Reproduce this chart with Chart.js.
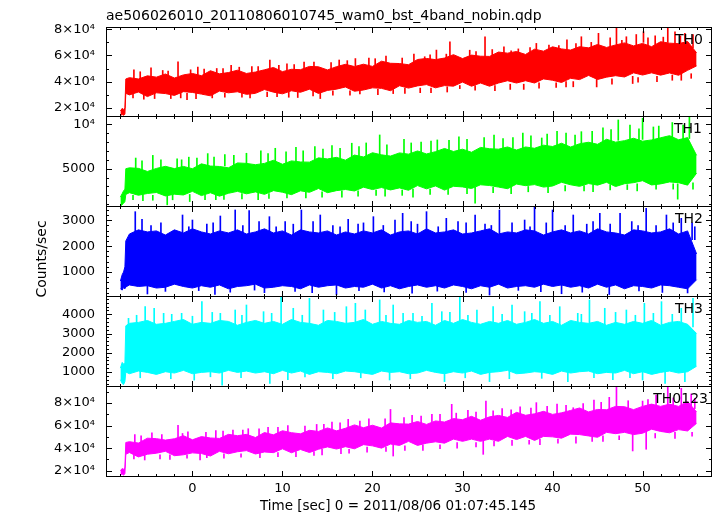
<!DOCTYPE html>
<html lang="en">
<head>
<meta charset="UTF-8">
<title>ae506026010 WAM light curve</title>
<script src="https://cdn.jsdelivr.net/npm/chart.js"></script>
<style>
  html, body { margin: 0; padding: 0; background: #fff; }
  #wrap { position: relative; width: 717px; height: 516px; }
  #wrap canvas { position: absolute; left: 0; top: 0; }
</style>
</head>
<body>
<div id="wrap">
  <canvas id="c0" width="717" height="516"></canvas>
  <canvas id="c1" width="717" height="516"></canvas>
  <canvas id="c2" width="717" height="516"></canvas>
  <canvas id="c3" width="717" height="516"></canvas>
  <canvas id="c4" width="717" height="516"></canvas>
</div>
<script>
// time of each envelope sample (sec)
const times = [-8, -7.8, -7.65, -7.5, -7.4,
  -7, -6, -5, -4, -3, -2, -1, 0, 1, 2,
  3, 4, 5, 6, 7, 8, 9, 10, 11, 12,
  13, 14, 15, 16, 17, 18, 19, 20, 21, 22,
  23, 24, 25, 26, 27, 28, 29, 30, 31, 32,
  33, 34, 35, 36, 37, 38, 39, 40, 41, 42,
  43, 44, 45, 46, 47, 48, 49, 50, 51, 52,
  53, 54, 55, 56];

// upper / lower edge of the dense part of each band, counts/sec
const th0Hi = [17500, 19500, 18500, 20000, 42000,
  43000, 42000, 44400, 43400, 45800, 42700, 45100, 46200, 44500, 48300,
  45900, 46900, 48700, 46200, 47300, 49000, 50800, 47600, 49400, 49100,
  51600, 51300, 48900, 51400, 53200, 51500, 53300, 51600, 55600, 54000,
  53800, 52900, 56900, 57700, 56800, 58000, 60600, 57600, 60250, 59400,
  59250, 62600, 61750, 63000, 60750, 64800, 63250, 66600, 65000, 64100,
  66700, 65800, 68400, 66100, 68000, 69600, 67300, 69200, 66700, 70500,
  69400, 69000, 70700, 62000];
const th0Lo = [14000, 14800, 14200, 15000, 31000,
  29800, 32000, 28500, 31400, 30800, 29400, 32300, 31700, 30400, 29100,
  32700, 31400, 32200, 30200, 31000, 33900, 31900, 30600, 32950, 31800,
  34150, 30900, 33250, 34200, 35850, 32600, 33550, 35200, 34800, 33000,
  36800, 35000, 36700, 37700, 35200, 36900, 36500, 39600, 36450, 38900,
  36450, 38900, 40650, 38900, 40650, 38900, 42050, 41000, 39300, 42500,
  41500, 44700, 41600, 43400, 44500, 43500, 46700, 45000, 46700, 44900,
  46600, 44800, 48600, 52000];
const th1Hi = [1800, 2200, 2500, 2700, 5000,
  5100, 5040, 4690, 5030, 5270, 5010, 5260, 5000, 5550, 5300,
  5250, 5100, 5650, 5600, 5450, 5600, 5950, 5500, 5880, 5760,
  5740, 6220, 6100, 6280, 5960, 6540, 6320, 6800, 6560, 6420,
  6780, 6640, 7000, 6660, 6920, 7280, 6940, 7200, 6850, 7400,
  7250, 7200, 7450, 7100, 7450, 7300, 7650, 7500, 7870, 7440,
  7810, 7980, 7750, 8320, 7990, 8160, 8430, 8100, 8240, 8480,
  8720, 8260, 8500, 6500];
const th1Lo = [800, 950, 1100, 1300, 2100,
  2300, 2010, 2210, 2320, 1930, 2130, 2040, 2450, 1970, 2290,
  1910, 2230, 2450, 2170, 2390, 2110, 2530, 2350, 2080, 2510,
  2340, 2770, 2300, 2530, 2660, 2490, 2920, 2650, 2880, 2610,
  2840, 2570, 3100, 2730, 3060, 2590, 3020, 2950, 2770, 3190,
  3110, 2930, 2750, 3270, 3090, 3210, 2930, 3050, 3470, 3190,
  3010, 3330, 3150, 3470, 2990, 3310, 3430, 3650, 3170, 3290,
  3510, 3430, 3150, 4500];
const th2Hi = [650, 900, 1000, 1200, 2200,
  2470, 2630, 2550, 2590, 2430, 2630, 2510, 2670, 2550, 2470,
  2590, 2510, 2630, 2470, 2550, 2670, 2510, 2590, 2430, 2630,
  2550, 2510, 2590, 2430, 2550, 2470, 2590, 2510, 2630, 2430,
  2550, 2590, 2470, 2670, 2510, 2550, 2630, 2470, 2510, 2590,
  2670, 2470, 2550, 2510, 2630, 2590, 2430, 2550, 2630, 2510,
  2590, 2470, 2670, 2550, 2510, 2430, 2630, 2590, 2510, 2550,
  2670, 2470, 2590, 1700];
const th2Lo = [350, 300, 400, 350, 420,
  500, 440, 470, 380, 410, 530, 440, 380, 470, 410,
  500, 350, 440, 470, 530, 380, 410, 470, 440, 350,
  500, 410, 470, 500, 380, 440, 410, 530, 380, 470,
  350, 440, 500, 410, 470, 380, 500, 440, 350, 470,
  410, 530, 380, 440, 470, 410, 530, 440, 500, 410,
  470, 380, 530, 410, 500, 350, 470, 440, 380, 500,
  470, 410, 350, 700];
const th3Hi = [1200, 1500, 1400, 1500, 3400,
  3530, 3580, 3680, 3480, 3530, 3630, 3730, 3480, 3580, 3530,
  3680, 3630, 3430, 3580, 3680, 3530, 3630, 3480, 3730, 3580,
  3530, 3430, 3680, 3630, 3530, 3580, 3730, 3480, 3630, 3530,
  3480, 3680, 3580, 3630, 3430, 3680, 3530, 3730, 3580, 3480,
  3630, 3530, 3680, 3480, 3580, 3730, 3530, 3630, 3430, 3680,
  3580, 3530, 3630, 3430, 3580, 3480, 3630, 3530, 3680, 3430,
  3580, 3630, 3480, 3000];
const th3Lo = [600, 400, 350, 500, 1000,
  910, 1050, 980, 875, 1015, 945, 1085, 910, 980, 1015,
  945, 1085, 980, 1050, 945, 1015, 910, 1085, 945, 1050,
  875, 1015, 980, 910, 1050, 1015, 945, 875, 1050, 980,
  1015, 910, 945, 1085, 980, 910, 1015, 945, 1050, 875,
  980, 1015, 1085, 910, 945, 1015, 980, 875, 1050, 945,
  1015, 1050, 910, 980, 945, 1085, 910, 1015, 875, 980,
  1050, 945, 1015, 1300];
const th0123Hi = [20000, 22000, 21000, 23000, 45000,
  45700, 44500, 48800, 48400, 47100, 48300, 51000, 47400, 50200, 49000,
  48600, 52200, 51000, 52200, 49400, 53800, 51800, 55400, 53700, 52700,
  55800, 54800, 57900, 55300, 57600, 60600, 58100, 60300, 57800, 62400,
  61500, 61300, 63600, 61000, 64100, 63100, 66200, 65200, 68200, 64700,
  67700, 69000, 67200, 71700, 69100, 70400, 72600, 69900, 71300, 73400,
  75600, 72100, 74300, 74000, 77000, 76700, 74100, 77000, 79000, 77000,
  79000, 77000, 81400, 72000];
const th0123Lo = [16500, 17000, 16000, 17500, 34500,
  36100, 32200, 34600, 35500, 37200, 33300, 34100, 35800, 35200, 33000,
  37200, 35000, 36800, 37800, 34800, 36600, 36000, 39400, 35900, 38800,
  36100, 39000, 41100, 39200, 41300, 39400, 43100, 42000, 40000, 43600,
  42400, 46000, 42400, 44400, 45600, 44400, 48000, 46000, 48000, 46000,
  48000, 46000, 50400, 47600, 50400, 46800, 50400, 50000, 48800, 52400,
  52000, 50800, 49600, 54000, 52800, 54000, 52000, 53200, 56800, 54800,
  53600, 56400, 55200, 62000];

// single bins sticking out of the band: [time, from, to]
const th0Spikes = [[-1.6, 44000, 55100], [-0.6, 31000, 26200], [8.6, 47000, 56400], [14.2, 32000, 27000],
  [18.1, 52000, 57600], [22.3, 34000, 30800], [27.1, 55000, 64100], [28.6, 56000, 70500], [29.7, 37000, 34600],
  [32.5, 58000, 74300], [38.2, 62000, 69200], [43.2, 66000, 74300], [44.9, 42000, 35900], [45.1, 66000, 76900],
  [47.1, 67000, 80800], [48.2, 68000, 74300], [48.9, 44000, 38500], [50.1, 70000, 78200], [52.8, 70000, 80800],
  [54.3, 47000, 41000], [54.7, 71000, 76900],
  [-6.5, 42000, 49000], [-4.6, 42000, 50500], [-3.3, 42000, 48500], [0.6, 44000, 51000], [2.7, 44000, 50000],
  [4.3, 45000, 52500], [6.6, 45000, 51500], [10.5, 47000, 53500], [12.4, 47000, 55000], [16.3, 49000, 56500],
  [19.6, 50000, 58000], [21.5, 52000, 59500], [24.6, 52000, 61000], [25.8, 53000, 59000], [30.8, 56000, 64000],
  [34.6, 58000, 66500], [36.2, 59000, 65000], [39.6, 60000, 68000], [41.6, 62000, 72000], [46.4, 64000, 73500],
  [49.3, 65000, 76000], [51.4, 66000, 75000], [53.6, 67000, 78000], [55.6, 66000, 76000],
  [-5.8, 42000, 47500], [-2.7, 43000, 48000], [-0.2, 44000, 49000], [1.3, 44000, 49500], [3.4, 45000, 50000],
  [5.2, 46000, 51000], [7.3, 46000, 51500], [9.6, 47000, 52500], [11.3, 48000, 53000], [13.5, 49000, 55000],
  [15.4, 49000, 54500], [17.2, 50000, 56000], [20.3, 52000, 57500], [23.3, 53000, 58000], [26.4, 54000, 60500],
  [28.2, 55000, 61000], [31.5, 57000, 63000], [33.3, 58000, 64500], [35.4, 58000, 63500], [37.5, 60000, 66000],
  [40.7, 61000, 67500], [42.6, 62000, 69000], [44.3, 63000, 70000], [47.7, 65000, 71500], [50.6, 67000, 73500],
  [52.3, 67000, 74000], [54.2, 68000, 75000],
  [-5.4, 31000, 26500], [-2.4, 31000, 27000], [2.2, 31000, 27500], [5.5, 32000, 28000], [9.4, 32000, 28500],
  [11.7, 32000, 27800], [17.5, 33000, 29500], [20.6, 34000, 30000], [25.3, 35000, 31500], [33.6, 37000, 33000],
  [36.8, 38000, 34000], [40.4, 39000, 35500], [42.3, 40000, 36000], [51.6, 44000, 40000], [55.4, 46000, 42500],
  [-6.6, 31000, 27500], [-4.2, 31000, 27000], [-1.3, 31000, 27500], [0.4, 31000, 27000], [3.6, 31000, 28000],
  [6.4, 31000, 27500], [8.3, 32000, 28500], [10.7, 32000, 28000], [13.4, 33000, 29000], [15.6, 33000, 29500],
  [18.6, 34000, 30500], [23.6, 35000, 31000], [26.5, 35000, 31500], [28.3, 36000, 32000], [31.4, 37000, 33500],
  [35.3, 38000, 34000], [38.5, 39000, 35000], [41.5, 40000, 36000], [46.6, 42000, 38000], [49.5, 43000, 39500],
  [53.3, 45000, 41000]];
const th1Spikes = [[-2.8, 2000, 930], [-1.2, 5000, 6000], [6.0, 5300, 6740], [9.2, 5500, 7300], [17.7, 6200, 7870],
  [20.8, 6500, 8800], [27.2, 6900, 8240], [31.4, 2900, 1120], [38.8, 7500, 8460], [43.2, 7900, 9170],
  [47.3, 8200, 10490], [50.0, 8300, 10680], [53.9, 3300, 1570], [55.2, 8400, 10790],
  [-6.3, 4800, 6200], [-4.4, 4900, 6500], [-0.4, 5000, 6300], [1.7, 5200, 6700], [3.6, 5300, 6600],
  [7.6, 5500, 7000], [11.5, 5800, 7400], [13.6, 5900, 7500], [15.5, 6000, 7600], [19.3, 6300, 7900],
  [23.5, 6600, 8300], [25.4, 6800, 8000], [29.6, 7000, 8600], [33.5, 7200, 8800], [35.6, 7300, 8500],
  [36.7, 7300, 9000], [40.5, 7500, 9200], [45.6, 7800, 9600], [48.6, 8000, 9900], [51.8, 8200, 9800],
  [53.3, 8300, 10200],
  [-5.6, 4900, 5900], [-3.5, 5000, 6000], [-1.7, 5000, 6100], [0.5, 5100, 6200], [2.4, 5200, 6300],
  [4.6, 5300, 6500], [8.4, 5500, 6700], [10.4, 5600, 6900], [12.3, 5800, 7000], [14.5, 5900, 7200],
  [16.4, 6100, 7300], [18.5, 6200, 7500], [21.6, 6400, 7700], [24.3, 6600, 7900], [26.5, 6800, 8100],
  [28.5, 6900, 8200], [30.5, 7000, 8300], [32.4, 7100, 8500], [34.5, 7200, 8400], [37.6, 7400, 8700],
  [39.4, 7500, 8900], [41.5, 7600, 9000], [42.5, 7700, 8800], [44.4, 7800, 9200], [46.5, 7900, 9400],
  [49.6, 8100, 9500], [51.2, 8200, 9700], [54.5, 8300, 9900],
  [-5.5, 2100, 1400], [-0.3, 2100, 1300], [2.6, 2200, 1500], [7.3, 2300, 1500], [12.6, 2400, 1700],
  [16.6, 2500, 1800], [21.4, 2700, 1900], [24.5, 2700, 1800], [28.4, 2900, 2100], [35.4, 3000, 2200],
  [39.5, 3100, 2300], [44.5, 3200, 2400], [49.4, 3300, 2500], [55.6, 3400, 2700],
  [-6.6, 2000, 1500], [-4.4, 2000, 1450], [-2.2, 2000, 1500], [1.4, 2100, 1500], [3.5, 2100, 1550],
  [5.5, 2200, 1600], [8.5, 2200, 1650], [10.5, 2300, 1700], [14.4, 2400, 1800], [18.4, 2500, 1900],
  [20.4, 2600, 2000], [23.3, 2600, 2000], [26.4, 2700, 2100], [30.5, 2800, 2200], [33.4, 2900, 2300],
  [37.3, 3000, 2400], [41.4, 3100, 2500], [43.5, 3100, 2500], [46.4, 3200, 2600], [48.3, 3200, 2650],
  [51.5, 3300, 2700], [53.4, 3300, 2700]];
const th2Spikes = [[-6.35, 2250, 3333], [-5.6, 2250, 3037], [-3.5, 2250, 2900], [-1.1, 2250, 3205], [0, 2250, 3011],
  [1.6, 2250, 2850], [3.1, 2250, 3166], [4.75, 2250, 3399], [6.3, 2250, 3372], [8.55, 2250, 3140], [10.3, 2250, 2950],
  [12.1, 2250, 3399], [14.2, 2250, 3205], [15.6, 2250, 2800], [17.3, 2250, 3037], [19.0, 2250, 2900], [20.1, 2250, 3140],
  [22.5, 2250, 3011], [23.35, 2250, 3270], [25.0, 2250, 2850], [26.0, 2250, 3334], [28.2, 2250, 3077], [29.5, 2250, 2950],
  [31.4, 2250, 3205], [33.2, 2250, 2800], [34.1, 2250, 3398], [35.5, 2250, 2900], [36.9, 2250, 3011], [38.0, 2250, 3503],
  [40.0, 2250, 3398], [42.3, 2250, 3205], [43.8, 2250, 2850], [45.25, 2250, 3270], [47.5, 2250, 3270], [48.8, 2250, 2950],
  [50.4, 2250, 3464], [51.5, 2250, 2800], [52.65, 2250, 3205], [54.3, 2250, 3077], [55.5, 2250, 2900],
  [-4.6, 2250, 2800], [-0.4, 2250, 2750], [2.3, 2250, 2900], [5.6, 2250, 2800], [7.4, 2250, 2950], [9.3, 2250, 2750],
  [11.2, 2250, 2850], [13.4, 2250, 2950], [16.4, 2250, 2750], [18.4, 2250, 2850], [21.2, 2250, 2800], [24.3, 2250, 2950],
  [27.3, 2250, 2750], [30.4, 2250, 2900], [32.5, 2250, 2850], [37.5, 2250, 2750], [39.3, 2250, 2900], [41.4, 2250, 2800],
  [44.5, 2250, 2950], [46.4, 2250, 2850], [49.5, 2250, 2800], [53.4, 2250, 2900], [55.8, 2250, 2750],
  [-5.0, 600, 150], [2.5, 600, 130], [8.0, 600, 200], [16.0, 600, 120], [24.4, 600, 180], [33.0, 600, 110],
  [41.0, 600, 160], [46.3, 600, 130], [55.0, 600, 190],
  [-3.0, 600, 250], [0.7, 600, 280], [4.2, 600, 220], [6.9, 600, 300], [11.4, 600, 250], [13.3, 600, 200],
  [18.5, 600, 280], [21.3, 600, 230], [27.2, 600, 260], [30.4, 600, 210], [36.2, 600, 290], [38.7, 600, 240],
  [43.3, 600, 220], [49.6, 600, 270], [52.2, 600, 210]];
const th3Spikes = [[-7.1, 3350, 3791], [-5.25, 3350, 4396], [-4.25, 3350, 4313], [-3.2, 3350, 4052], [-1.2, 3350, 4052],
  [1.05, 3350, 4658], [3.1, 3350, 4052], [4.75, 3350, 4224], [6.0, 3350, 4484], [7.9, 3350, 4137], [9.85, 3350, 4950],
  [11.2, 3350, 4313], [13.0, 3350, 4832], [14.55, 3350, 4224], [17.1, 3350, 4396], [18.1, 3350, 4570], [19.2, 3350, 4224],
  [20.8, 3350, 4745], [22.3, 3350, 4484], [24.5, 3350, 4052], [26.6, 3350, 4570], [27.7, 3350, 4137], [29.7, 3350, 4918],
  [31.6, 3350, 4224], [33.4, 3350, 4396], [35.5, 3350, 4484], [36.9, 3350, 4137], [38.6, 3350, 4658], [40.8, 3350, 4396],
  [42.8, 3350, 4052], [44.1, 3350, 4745], [45.8, 3350, 4313], [48.2, 3350, 4224], [50.2, 3350, 4570], [52.1, 3350, 4658],
  [54.3, 3350, 4313], [55.6, 3350, 4832],
  [-6.2, 3350, 3950], [-2.3, 3350, 4000], [0.0, 3350, 3900], [2.2, 3350, 4100], [5.5, 3350, 3950], [8.8, 3350, 4050],
  [12.2, 3350, 3950], [15.8, 3350, 4100], [21.5, 3350, 3950], [23.4, 3350, 4050], [25.5, 3350, 3900], [28.6, 3350, 4100],
  [30.6, 3350, 3950], [34.4, 3350, 4000], [37.7, 3350, 4050], [39.7, 3350, 3950], [43.2, 3350, 4000], [47.0, 3350, 4100],
  [49.2, 3350, 3950], [51.2, 3350, 4050], [53.3, 3350, 4000],
  [0.2, 1100, 580], [3.3, 1100, 318], [8.6, 1100, 406], [21.9, 1100, 585], [28.0, 1100, 500], [33.0, 1100, 500],
  [38.8, 1100, 670], [41.7, 1100, 500], [50.0, 1100, 585], [52.5, 1100, 411], [54.7, 1100, 500],
  [-5.8, 1100, 700], [-2.4, 1100, 650], [2.0, 1100, 750], [5.4, 1100, 700], [10.6, 1100, 600], [12.5, 1100, 750],
  [15.6, 1100, 650], [18.7, 1100, 700], [24.2, 1100, 650], [30.3, 1100, 700], [35.2, 1100, 650], [44.6, 1100, 700],
  [46.7, 1100, 600], [48.6, 1100, 700]];
const th0123Spikes = [[-1.6, 48000, 60200], [0.85, 36000, 29500], [6.2, 50000, 57200], [13.8, 54000, 61000],
  [14.4, 39000, 33900], [17.3, 57000, 65500], [22.0, 60000, 74300], [22.3, 43000, 33000], [28.8, 65000, 78800],
  [32.3, 47000, 34500], [32.6, 66000, 81700], [38.2, 70000, 80300], [42.3, 71000, 75800], [47.1, 76000, 94400],
  [48.9, 54000, 37500], [50.0, 77000, 81700], [50.4, 55000, 39000], [52.8, 78000, 94000], [54.3, 78000, 93000],
  [-6.4, 45000, 52000], [-4.5, 46000, 53500], [-0.5, 47000, 54500], [2.6, 48000, 55500], [4.5, 49000, 56000],
  [8.4, 51000, 58500], [10.6, 52000, 60000], [15.5, 55000, 63000], [19.6, 57000, 66000], [24.4, 60000, 69000],
  [26.6, 62000, 70000], [30.6, 64000, 73500], [34.4, 66000, 75000], [36.4, 67000, 76500], [40.5, 69000, 79000],
  [44.6, 71000, 82500], [46.3, 72000, 85000], [51.5, 75000, 87000], [55.4, 77000, 88000],
  [-5.7, 45000, 51000], [-3.4, 46000, 52000], [-1.1, 47000, 53000], [1.5, 48000, 54000], [3.4, 49000, 55000],
  [5.6, 50000, 56000], [7.4, 51000, 57000], [9.5, 52000, 58500], [12.5, 53000, 59500], [14.6, 55000, 61000],
  [16.4, 56000, 62500], [18.6, 57000, 64000], [21.4, 59000, 66000], [23.5, 60000, 67000], [25.4, 61000, 68500],
  [27.5, 62000, 70000], [29.3, 63000, 71000], [31.5, 64000, 72000], [33.4, 65000, 73000], [35.4, 66000, 74000],
  [37.6, 67000, 75500], [39.4, 68000, 77000], [41.5, 69000, 78000], [43.4, 70000, 79500], [45.4, 71000, 80500],
  [48.4, 72000, 82000], [50.6, 73000, 83000], [53.4, 74000, 84500], [55.8, 75000, 84000],
  [-5.3, 34000, 29500], [-2.5, 34000, 30000], [3.5, 35000, 31000], [7.5, 36000, 31500], [11.5, 37000, 32500],
  [16.5, 40000, 35000], [19.4, 41000, 36500], [25.6, 43000, 38000], [29.4, 45000, 40000], [35.5, 47000, 42500],
  [38.6, 48000, 43000], [42.6, 50000, 44500], [45.6, 51000, 46000], [53.6, 54000, 48500],
  [-6.5, 34000, 30500], [-3.6, 34000, 30500], [-0.6, 34000, 31000], [1.6, 34000, 31500], [5.4, 35000, 32000],
  [9.5, 36000, 32500], [13.5, 37000, 33500], [17.4, 39000, 35500], [21.5, 41000, 37000], [23.6, 42000, 38000],
  [27.5, 43000, 39500], [31.5, 45000, 41000], [33.5, 46000, 42000], [37.4, 47000, 43500], [40.6, 48000, 44500],
  [44.4, 50000, 46000], [47.4, 51000, 47500], [51.4, 53000, 49000], [55.5, 54000, 50500]];

// ticks
const xMajor = [0, 10, 20, 30, 40, 50];
const xMinor = [-8, -6, -4, -2, 2, 4, 6, 8, 12, 14, 16, 18, 22, 24, 26, 28, 32, 34, 36, 38, 42, 44, 46, 48, 52, 54, 56];
const th0Major = [20000, 40000, 60000, 80000];
const th0Labels = ['2×10⁴', '4×10⁴', '6×10⁴', '8×10⁴'];
const th0Minor = [30000, 50000, 70000];
const th1Major = [5000, 10000];
const th1Labels = ['5000', '10⁴'];
const th1Minor = [1000, 2000, 3000, 4000, 6000, 7000, 8000, 9000];
const th2Major = [1000, 2000, 3000];
const th2Labels = ['1000', '2000', '3000'];
const th2Minor = [200, 400, 600, 800, 1200, 1400, 1600, 1800, 2200, 2400, 2600, 2800, 3200, 3400];
const th3Major = [1000, 2000, 3000, 4000];
const th3Labels = ['1000', '2000', '3000', '4000'];
const th3Minor = [400, 600, 800, 1200, 1400, 1600, 1800, 2200, 2400, 2600, 2800, 3200, 3400, 3600, 3800, 4200, 4400, 4600, 4800];
const th0123Major = [20000, 40000, 60000, 80000];
const th0123Labels = ['2×10⁴', '4×10⁴', '6×10⁴', '8×10⁴'];
const th0123Minor = [30000, 50000, 70000, 90000];

const xMin = -9.6, xMax = 57.6;
const mainTitle = 'ae506026010_20110806010745_wam0_bst_4band_nobin.qdp';
const xTitle = 'Time [sec] 0 = 2011/08/06 01:07:45.145';
const yTitle = 'Counts/sec';

const panels = [
  { name: 'TH0', color: '#ff0000', hi: th0Hi, lo: th0Lo, spikes: th0Spikes, min: 13650, max: 81760,
    major: th0Major, labels: th0Labels, minor: th0Minor, top: 27, bottom: 116, labelRight: 703 },
  { name: 'TH1', color: '#00ff00', hi: th1Hi, lo: th1Lo, spikes: th1Spikes, min: 800, max: 10935,
    major: th1Major, labels: th1Labels, minor: th1Minor, top: 116, bottom: 206, labelRight: 702 },
  { name: 'TH2', color: '#0000ff', hi: th2Hi, lo: th2Lo, spikes: th2Spikes, min: 72, max: 3553,
    major: th2Major, labels: th2Labels, minor: th2Minor, top: 206, bottom: 296, labelRight: 703 },
  { name: 'TH3', color: '#00ffff', hi: th3Hi, lo: th3Lo, spikes: th3Spikes, min: 272, max: 4952,
    major: th3Major, labels: th3Labels, minor: th3Minor, top: 296, bottom: 386, labelRight: 703 },
  { name: 'TH0123', color: '#ff00ff', hi: th0123Hi, lo: th0123Lo, spikes: th0123Spikes, min: 15300, max: 95060,
    major: th0123Major, labels: th0123Labels, minor: th0123Minor, top: 386, bottom: 476, labelRight: 708 }
];

Chart.defaults.font.family = '"DejaVu Sans", sans-serif';
Chart.defaults.font.size = 13;
Chart.defaults.color = '#000';

// box round each panel, inward ticks on all four sides, panel name, page titles
const framePlugin = {
  id: 'frame',
  afterDraw(chart, args, opts) {
    const { ctx, chartArea: a } = chart;
    const x = chart.scales.x, y = chart.scales.y;
    ctx.save();
    ctx.strokeStyle = '#000';
    ctx.lineWidth = 1;
    ctx.strokeRect(a.left + 0.5, a.top + 0.5, a.right - a.left, a.bottom - a.top);
    ctx.beginPath();
    const xt = (v, len) => {
      const px = Math.round(x.getPixelForValue(v)) + 0.5;
      ctx.moveTo(px, a.top); ctx.lineTo(px, a.top + len);
      ctx.moveTo(px, a.bottom + 1); ctx.lineTo(px, a.bottom + 1 - len);
    };
    const yt = (v, len) => {
      const py = Math.round(y.getPixelForValue(v)) + 0.5;
      ctx.moveTo(a.left, py); ctx.lineTo(a.left + len, py);
      ctx.moveTo(a.right + 1, py); ctx.lineTo(a.right + 1 - len, py);
    };
    xMajor.forEach(v => xt(v, 6));
    xMinor.forEach(v => xt(v, 3));
    opts.major.forEach(v => yt(v, 6));
    opts.minor.forEach(v => yt(v, 3));
    ctx.stroke();

    ctx.fillStyle = '#000';
    ctx.font = '14px "DejaVu Sans"';
    ctx.textAlign = 'right';
    ctx.textBaseline = 'alphabetic';
    ctx.fillText(opts.name, opts.labelRight, a.top + 16.5);

    if (opts.first) {
      ctx.textAlign = 'left';
      ctx.fillText(mainTitle, a.left, 20);
    }
    if (opts.yTitle) {
      ctx.save();
      ctx.translate(46, 259);
      ctx.rotate(-Math.PI / 2);
      ctx.textAlign = 'center';
      ctx.fillText(yTitle, 0, 0);
      ctx.restore();
    }
    if (opts.last) {
      ctx.font = '13.5px "DejaVu Sans"';
      ctx.textAlign = 'center';
      ctx.fillText(xTitle, 398, 510);
    }
    ctx.restore();
  }
};

panels.forEach((p, k) => {
  const first = k === 0, last = k === panels.length - 1;
  new Chart(document.getElementById('c' + k), {
    type: 'line',
    data: {
      datasets: [
        { data: times.map((t, i) => ({ x: t, y: p.hi[i] })), borderColor: p.color, backgroundColor: p.color,
          borderWidth: 1, pointRadius: 0, tension: 0, fill: '+1' },
        { data: times.map((t, i) => ({ x: t, y: p.lo[i] })), borderColor: p.color, backgroundColor: p.color,
          borderWidth: 1, pointRadius: 0, tension: 0, fill: false },
        { type: 'bar', data: p.spikes.map(s => ({ x: s[0], y: [s[1], s[2]] })), backgroundColor: p.color,
          borderWidth: 0, barThickness: 1 }
      ]
    },
    options: {
      responsive: false,
      animation: false,
      devicePixelRatio: 1,
      layout: { padding: { top: p.top, bottom: last ? 0 : 516 - p.bottom, left: 0, right: 6 } },
      plugins: {
        legend: { display: false },
        tooltip: { enabled: false },
        frame: { name: p.name, major: p.major, minor: p.minor, labelRight: p.labelRight,
                 first: first, last: last, yTitle: k === 2 }
      },
      scales: {
        x: {
          type: 'linear', min: xMin, max: xMax, offset: false, display: last,
          grid: { display: false, drawTicks: false }, border: { display: false },
          afterBuildTicks: s => { s.ticks = xMajor.map(v => ({ value: v })); },
          ticks: { padding: 5, maxRotation: 0, autoSkip: false, color: '#000' },
          afterFit: s => { s.height = last ? 40 : 0; }
        },
        y: {
          min: p.min, max: p.max,
          grid: { display: false, drawTicks: false }, border: { display: false },
          afterBuildTicks: s => { s.ticks = p.major.map(v => ({ value: v })); },
          ticks: { padding: 11, color: '#000', callback: (v, i) => p.labels[i] },
          afterFit: s => { s.width = 106; }
        }
      }
    },
    plugins: [framePlugin]
  });
});
</script>
</body>
</html>
